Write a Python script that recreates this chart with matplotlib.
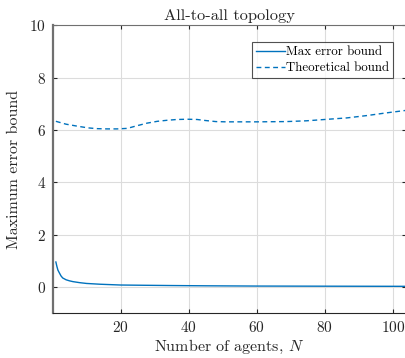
import numpy as np
import matplotlib
matplotlib.use("Agg")
import matplotlib.pyplot as plt

# max error bound (solid)
n_max = [1, 1.3, 1.6, 2, 2.5, 3, 4, 5, 6, 8, 10, 14, 20, 27, 35, 45, 60, 80, 104]
max_err = [0.95, 0.78, 0.64, 0.54, 0.42, 0.34, 0.27, 0.23, 0.2, 0.16, 0.13, 0.1, 0.07, 0.06, 0.05, 0.04, 0.03, 0.025, 0.02]

# theoretical bound (dashed)
n_th = [1, 4, 7.5, 10.4, 13, 16, 19, 22, 24.8, 27.8, 30.8, 33.7, 36.6, 39.6, 42.5, 45,
        48, 51, 60, 68.8, 74.7, 80, 86.5, 92.4, 98, 104]
th_bound = [6.33, 6.22, 6.14, 6.08, 6.05, 6.04, 6.04, 6.06, 6.16, 6.26, 6.33, 6.37, 6.4, 6.41,
            6.4, 6.36, 6.32, 6.31, 6.31, 6.32, 6.35, 6.4, 6.46, 6.55, 6.65, 6.75]

x_ticks = [20, 40, 60, 80, 100]
y_ticks = [0, 2, 4, 6, 8, 10]

plt.rcParams['font.family'] = 'serif'
plt.rcParams['font.serif'] = ['cmr10']
plt.rcParams['mathtext.fontset'] = 'cm'
plt.rcParams['axes.formatter.use_mathtext'] = True

blue = (0, 0.447, 0.741)

fig = plt.figure(figsize=(4.06, 3.58), dpi=100)
ax = fig.add_axes([0.1305, 0.1257, 0.8695, 0.8035])

ax.plot(n_max, max_err, color=blue, lw=1.0, label='Max error bound')
ax.plot(n_th, th_bound, color=blue, lw=1.0, ls=(0, (3.5, 2.5)), label='Theoretical bound')

ax.set_xlim(0.15, 103.9)
ax.set_ylim(-1, 10)
ax.set_xticks(x_ticks)
ax.set_yticks(y_ticks)
ax.grid(True, color='#dcdcdc', lw=0.8)
ax.set_axisbelow(True)
ax.tick_params(direction='in', length=3, labelsize=11, colors='#262626',
               top=True, right=True, pad=5)
for s in ax.spines.values():
    s.set_color('#262626')
    s.set_linewidth(0.8)
ax.spines['left'].set_color('#707070')
ax.spines['left'].set_linewidth(1.6)
ax.spines['top'].set_color('#707070')

ax.set_title('All-to-all topology', fontsize=11.8, color='#262626', pad=4)
ax.set_xlabel('Number of agents, $N$', fontsize=11.5, color='#262626', labelpad=2)
ax.set_ylabel('Maximum error bound', fontsize=11.5, color='#262626', labelpad=6)

leg = ax.legend(loc='upper right', bbox_to_anchor=(0.963, 0.941), fontsize=9.3,
                frameon=True, fancybox=False, handlelength=2.2, handletextpad=0.1,
                borderpad=0.3, labelspacing=0.3, borderaxespad=0)
leg.get_frame().set_edgecolor('#262626')
leg.get_frame().set_linewidth(0.8)

fig.savefig('out.png', dpi=100)
